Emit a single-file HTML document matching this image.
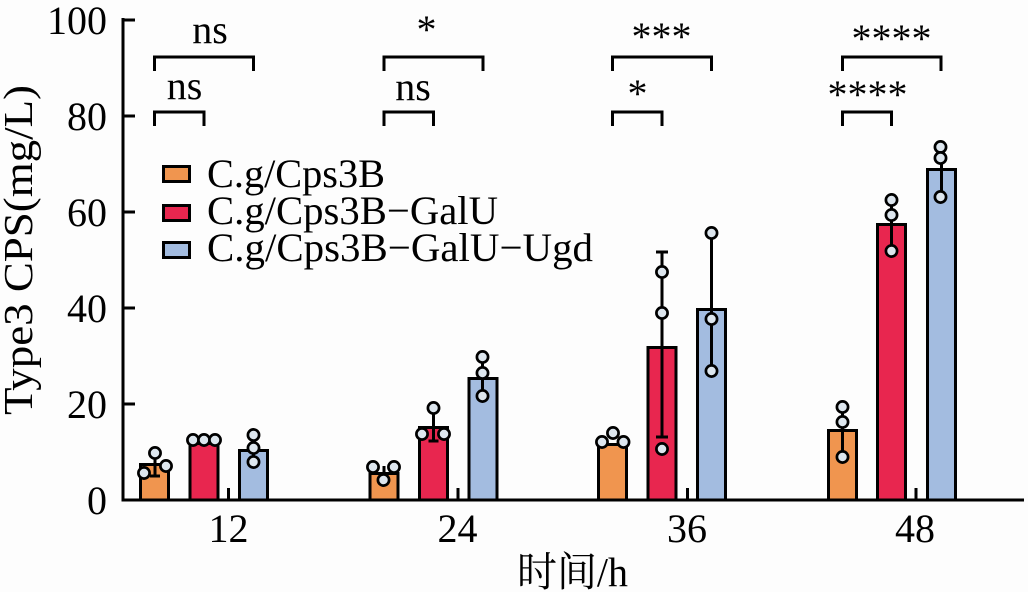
<!DOCTYPE html>
<html>
<head>
<meta charset="utf-8">
<style>
  html, body { margin:0; padding:0; background:#fdfdfd; }
  svg { display:block; }
  text { font-family: "Liberation Serif", "Noto Serif CJK SC", serif; fill:#000; }
</style>
</head>
<body>
<svg width="1028" height="592" viewBox="0 0 1028 592" xmlns="http://www.w3.org/2000/svg">
  <rect x="0" y="0" width="1028" height="592" fill="#fdfdfd"/>

  <!-- Y axis label -->
  <text transform="translate(32,415) rotate(-90)" font-size="41" textLength="330" lengthAdjust="spacingAndGlyphs">Type3 CPS(mg/L)</text>

  <!-- Y tick labels -->
  <g font-size="40" text-anchor="end">
    <text x="107" y="34">100</text>
    <text x="107" y="130">80</text>
    <text x="107" y="226">60</text>
    <text x="107" y="322">40</text>
    <text x="107" y="418">20</text>
    <text x="107" y="514">0</text>
  </g>

  <!-- Axes -->
  <g stroke="#000" stroke-width="3" fill="none">
    <line x1="123" y1="18" x2="123" y2="501.5"/>
    <line x1="121.5" y1="500" x2="1024" y2="500"/>
    <line x1="123" y1="20" x2="135" y2="20"/>
    <line x1="123" y1="116" x2="135" y2="116"/>
    <line x1="123" y1="212" x2="135" y2="212"/>
    <line x1="123" y1="308" x2="135" y2="308"/>
    <line x1="123" y1="404" x2="135" y2="404"/>
    <!-- category ticks -->
    <line x1="228.5" y1="500" x2="228.5" y2="488"/>
    <line x1="458" y1="500" x2="458" y2="488"/>
    <line x1="687.5" y1="500" x2="687.5" y2="488"/>
    <line x1="916" y1="500" x2="916" y2="488"/>
  </g>

  <!-- X tick labels -->
  <g font-size="40" text-anchor="middle">
    <text x="228.5" y="542">12</text>
    <text x="457.5" y="542">24</text>
    <text x="687" y="542">36</text>
    <text x="915" y="542">48</text>
  </g>

  <!-- X axis label -->
  <text x="517" y="586" font-size="41" textLength="111" lengthAdjust="spacingAndGlyphs">时间/h</text>

  <!-- Bars -->
  <g stroke="#000" stroke-width="3">
    <!-- 12 -->
    <rect x="140.5" y="464.5" width="28" height="35.5" fill="#f0954f"/>
    <rect x="190" y="443.5" width="28" height="56.5" fill="#e8264f"/>
    <rect x="239.5" y="450.5" width="28" height="49.5" fill="#a3bce0"/>
    <!-- 24 -->
    <rect x="370" y="473.5" width="28" height="26.5" fill="#f0954f"/>
    <rect x="419.5" y="427.5" width="28" height="72.5" fill="#e8264f"/>
    <rect x="469" y="378.5" width="28" height="121.5" fill="#a3bce0"/>
    <!-- 36 -->
    <rect x="598.5" y="444.5" width="28" height="55.5" fill="#f0954f"/>
    <rect x="648" y="347.5" width="28" height="152.5" fill="#e8264f"/>
    <rect x="697.5" y="309.5" width="28" height="190.5" fill="#a3bce0"/>
    <!-- 48 -->
    <rect x="828.5" y="430.5" width="28" height="69.5" fill="#f0954f"/>
    <rect x="877.5" y="224.5" width="28" height="275.5" fill="#e8264f"/>
    <rect x="927.5" y="169.5" width="28" height="330.5" fill="#a3bce0"/>
  </g>

  <!-- Error bars -->
  <g stroke="#000" stroke-width="3" fill="none">
    <path d="M155 453 V476 M150 476 H160"/>
    <path d="M253.5 435 V462"/>
    <path d="M384 466 V479 M379 479 H389"/>
    <path d="M433.5 410 V441 M428.5 441 H438.5 M428.5 410 H438.5"/>
    <path d="M482.5 357 V396"/>
    <path d="M662 252 V437 M656 252 H668 M656 437 H668"/>
    <path d="M711.5 235 V377 M705.5 235 H717.5"/>
    <path d="M842.5 404 V457"/>
    <path d="M891.5 200 V251"/>
    <path d="M941.5 147 V197"/>
  </g>

  <!-- Data points -->
  <g stroke="#000" stroke-width="2.7" fill="#dde6ee">
    <circle cx="144" cy="473" r="5.6"/>
    <circle cx="155" cy="453" r="5.6"/>
    <circle cx="166" cy="466" r="5.6"/>
    <circle cx="193" cy="440" r="5.6"/>
    <circle cx="204" cy="440" r="5.6"/>
    <circle cx="215" cy="440" r="5.6"/>
    <circle cx="253.5" cy="435" r="5.6"/>
    <circle cx="253.5" cy="448" r="5.6"/>
    <circle cx="253.5" cy="462" r="5.6"/>

    <circle cx="373" cy="467" r="5.6"/>
    <circle cx="394" cy="467" r="5.6"/>
    <circle cx="383.5" cy="480" r="5.6"/>
    <circle cx="433.5" cy="408" r="5.6"/>
    <circle cx="422" cy="434" r="5.6"/>
    <circle cx="444" cy="434" r="5.6"/>
    <circle cx="482.5" cy="357" r="5.6"/>
    <circle cx="482.5" cy="373" r="5.6"/>
    <circle cx="482.5" cy="396" r="5.6"/>

    <circle cx="602" cy="442" r="5.6"/>
    <circle cx="613" cy="433" r="5.6"/>
    <circle cx="623.5" cy="442" r="5.6"/>
    <circle cx="662" cy="272" r="5.6"/>
    <circle cx="662" cy="313" r="5.6"/>
    <circle cx="662" cy="449" r="5.6"/>
    <circle cx="711.5" cy="233" r="5.6"/>
    <circle cx="711.5" cy="319" r="5.6"/>
    <circle cx="711.5" cy="371" r="5.6"/>

    <circle cx="842.5" cy="407" r="5.6"/>
    <circle cx="842.5" cy="422" r="5.6"/>
    <circle cx="842.5" cy="457" r="5.6"/>
    <circle cx="891.5" cy="200" r="5.6"/>
    <circle cx="891.5" cy="215" r="5.6"/>
    <circle cx="891.5" cy="251" r="5.6"/>
    <circle cx="940.5" cy="147" r="5.6"/>
    <circle cx="940.5" cy="158" r="5.6"/>
    <circle cx="940.5" cy="197" r="5.6"/>
  </g>

  <!-- Significance brackets -->
  <g stroke="#000" stroke-width="3" fill="none">
    <path d="M154.5 71 V57 H253.5 V71"/>
    <path d="M154.5 126 V112 H204 V126"/>
    <path d="M384 71 V57 H483 V71"/>
    <path d="M384 126 V112 H433.5 V126"/>
    <path d="M612.5 71 V57 H711.5 V71"/>
    <path d="M612.5 126 V112 H662 V126"/>
    <path d="M842.5 71 V57 H941 V71"/>
    <path d="M842.5 126 V112 H891.5 V126"/>
  </g>

  <g font-size="40" text-anchor="middle">
    <text x="210" y="43">ns</text>
    <text x="184.5" y="99">ns</text>
    <text x="426.5" y="43">*</text>
    <text x="413" y="100">ns</text>
    <text x="661.5" y="50">***</text>
    <text x="637.5" y="107">*</text>
    <text x="891.5" y="52">****</text>
    <text x="867.5" y="108">****</text>
  </g>

  <!-- Legend -->
  <g stroke="#000" stroke-width="3">
    <rect x="163.5" y="166.5" width="26" height="15" fill="#f0954f"/>
    <rect x="163.5" y="205.5" width="26" height="15" fill="#e8264f"/>
    <rect x="163.5" y="242.5" width="26" height="15" fill="#a3bce0"/>
  </g>
  <g font-size="40">
    <text x="207" y="187" textLength="178" lengthAdjust="spacingAndGlyphs">C.g/Cps3B</text>
    <text x="207" y="224" textLength="291" lengthAdjust="spacingAndGlyphs">C.g/Cps3B−GalU</text>
    <text x="207" y="261" textLength="386" lengthAdjust="spacingAndGlyphs">C.g/Cps3B−GalU−Ugd</text>
  </g>
</svg>
</body>
</html>
